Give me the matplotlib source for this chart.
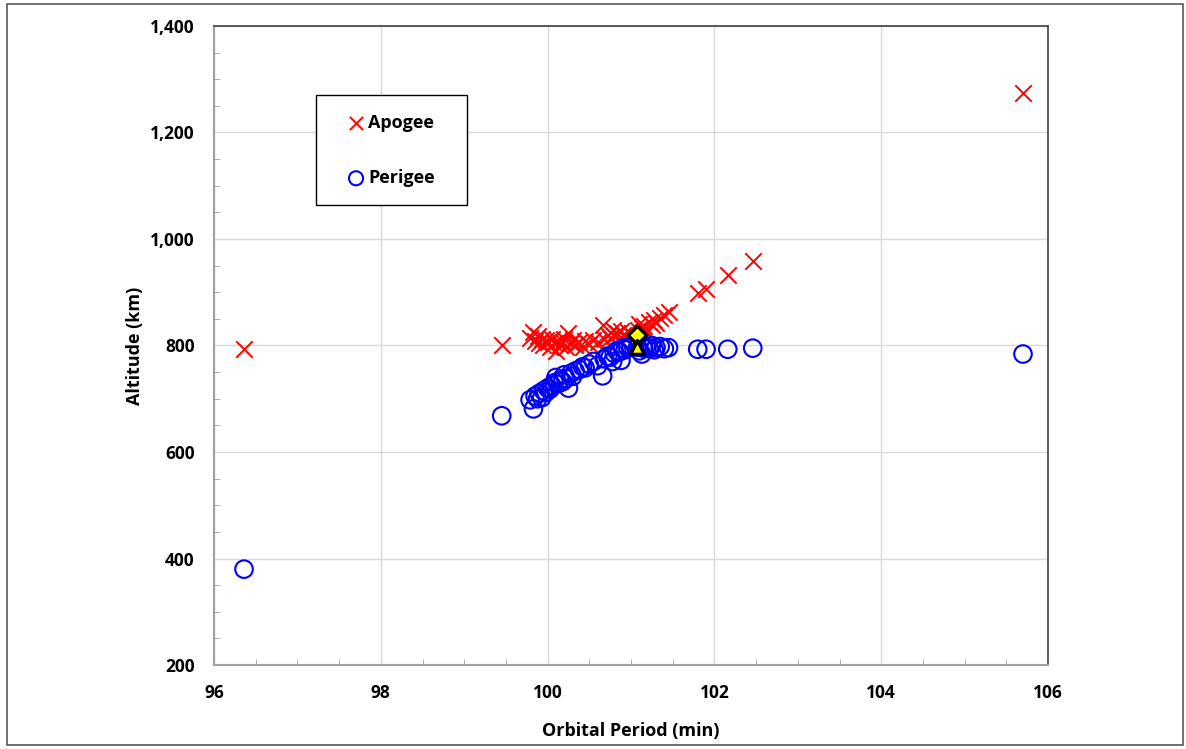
import numpy as np
import matplotlib.pyplot as plt
from matplotlib.patches import Rectangle
from matplotlib.ticker import MultipleLocator, FuncFormatter

plt.rcParams['font.family'] = ['Open Sans', 'DejaVu Sans']
plt.rcParams['font.weight'] = 'bold'

# orbital period (min), apogee (km), perigee (km) per object
period = [96.36, 99.45, 99.79, 99.83, 99.85, 99.88, 99.90, 99.93, 99.95, 99.98,
          100.00, 100.03, 100.05, 100.08, 100.10, 100.12, 100.15, 100.18, 100.20, 100.22,
          100.25, 100.28, 100.30, 100.33, 100.38, 100.42, 100.45, 100.50, 100.55, 100.60,
          100.66, 100.68, 100.72, 100.75, 100.78, 100.80, 100.83, 100.86, 100.88, 100.90,
          100.93, 100.96, 101.00, 101.08, 101.10, 101.13, 101.15, 101.18, 101.22, 101.25,
          101.28, 101.30, 101.35, 101.40, 101.45, 101.80, 101.90, 102.16, 102.46, 105.70]
apogee = [793, 801, 815, 826, 808, 818, 805, 812, 800, 810,
          806, 798, 812, 804, 790, 808, 800, 806, 812, 798,
          824, 805, 810, 800, 806, 798, 808, 802, 810, 806,
          838, 812, 820, 815, 830, 818, 824, 812, 828, 820,
          816, 826, 822, 830, 840, 832, 836, 828, 844, 838,
          848, 842, 852, 858, 862, 899, 906, 932, 959, 1274]
perigee = [380, 668, 698, 681, 705, 700, 710, 702, 715, 712,
           720, 718, 725, 730, 740, 728, 735, 732, 745, 738,
           720, 748, 742, 752, 755, 760, 758, 765, 770, 762,
           743, 775, 780, 778, 770, 785, 790, 788, 772, 795,
           792, 796, 798, 797, 790, 784, 795, 798, 794, 800,
           792, 796, 798, 794, 796, 793, 793, 793, 795, 784]

# highlighted object
hl_period = 101.07
hl_apogee = 820
hl_perigee = 797

W, H = 1186, 749
fig = plt.figure(figsize=(W / 100, H / 100), dpi=100)
ax = fig.add_axes([214 / W, 1 - 665 / H, 834 / W, 639 / H])

ax.scatter(period, apogee, marker='x', s=140, c='#ff0000', linewidths=1.4,
           label='Apogee', zorder=3)
ax.scatter(period, perigee, marker='o', s=160, facecolors='none',
           edgecolors='#0000ff', linewidths=1.5, label='Perigee', zorder=3)
ax.scatter([hl_period], [hl_apogee], marker='D', s=90, c='#ffff00',
           edgecolors='black', linewidths=2.5, zorder=4)
ax.scatter([hl_period], [hl_perigee], marker='^', s=100, c='#ffff00',
           edgecolors='black', linewidths=2.5, zorder=5)

ax.set_xlim(96, 106)
ax.set_ylim(200, 1400)
ax.xaxis.set_major_locator(MultipleLocator(2))
ax.xaxis.set_minor_locator(MultipleLocator(0.5))
ax.yaxis.set_major_locator(MultipleLocator(200))
ax.yaxis.set_minor_locator(MultipleLocator(50))
ax.yaxis.set_major_formatter(FuncFormatter(lambda v, p: f'{int(v):,}'))
ax.grid(True, which='major', color='#d9d9d9', linewidth=1)
ax.set_axisbelow(True)
ax.tick_params(which='both', direction='in', color='#a0a0a0', labelsize=12.5)
ax.tick_params(which='major', length=0, pad=14)
ax.tick_params(which='minor', length=4)
for lbl in ax.get_xticklabels() + ax.get_yticklabels():
    lbl.set_fontweight('bold')
for s in ['left', 'bottom']:
    ax.spines[s].set_color('#a0a0a0')
    ax.spines[s].set_linewidth(1.5)
for s in ['top', 'right']:
    ax.spines[s].set_color('#404040')
    ax.spines[s].set_linewidth(1.2)

ax.set_xlabel('Orbital Period (min)', fontsize=13, fontweight='bold', labelpad=14)
ax.set_ylabel('Altitude (km)', fontsize=13, fontweight='bold', labelpad=4)

# legend box drawn separately so its size matches the original
ax.add_patch(Rectangle((316 / W, 1 - 205 / H), 151 / W, 110 / H,
                       transform=fig.transFigure, facecolor='white',
                       edgecolor='black', linewidth=1.0, zorder=6,
                       clip_on=False))
leg = ax.legend(loc='center left', bbox_to_anchor=(347 / W, 1 - 150.5 / H),
                bbox_transform=fig.transFigure, frameon=False,
                borderpad=0, labelspacing=2.05, handlelength=1.0,
                handletextpad=0.17, borderaxespad=0, markerscale=0.8,
                prop={'weight': 'bold', 'size': 13})
leg.set_zorder(7)

fig.patches.append(Rectangle((7 / W, 4 / H), 1176 / W, 741 / H,
                             transform=fig.transFigure, fill=False,
                             edgecolor='#595959', linewidth=1.2))

fig.savefig('out.png', dpi=100)
